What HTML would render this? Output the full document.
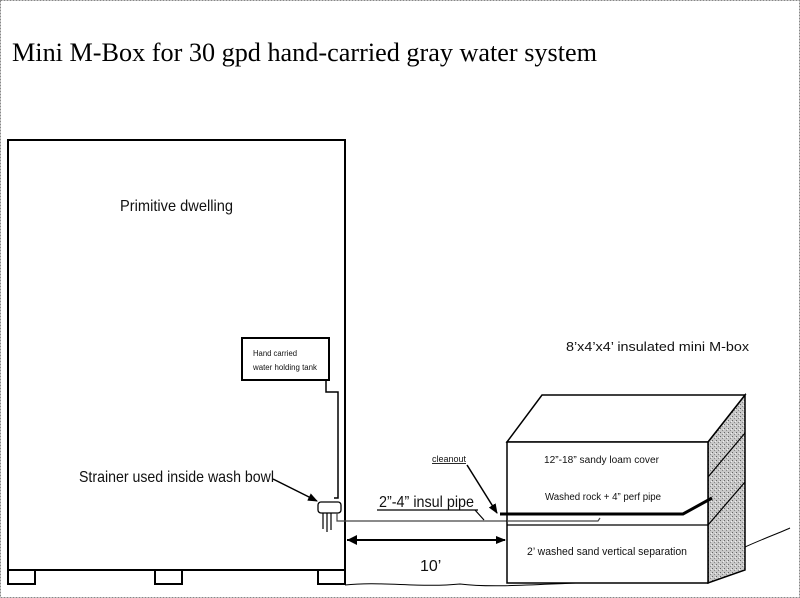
<!DOCTYPE html>
<html><head><style>
body{margin:0;width:800px;height:598px;background:#fff;overflow:hidden}
svg{display:block}
.s{font-family:"Liberation Sans",sans-serif;fill:#111}
</style></head><body>
<svg width="800" height="598" viewBox="0 0 800 598" xmlns="http://www.w3.org/2000/svg">
<defs>
<pattern id="st" width="4" height="4" patternUnits="userSpaceOnUse">
<rect width="4" height="4" fill="#c8c8c8"/><rect x="0" y="0" width="1" height="1" fill="#666"/><rect x="2" y="2" width="1" height="1" fill="#888"/><rect x="3" y="1" width="1" height="1" fill="#eee"/>
</pattern>
<marker id="ah" markerWidth="10" markerHeight="8" refX="9" refY="4" orient="auto" markerUnits="userSpaceOnUse"><path d="M0,0 L10,4 L0,8 z" fill="#000"/></marker>
</defs>
<rect x="0.5" y="0.5" width="799" height="597" fill="none" stroke="#888" stroke-width="1" stroke-dasharray="2,1"/>
<text x="12" y="61" font-family="Liberation Serif,serif" font-size="26" fill="#000" textLength="585" lengthAdjust="spacingAndGlyphs">Mini M-Box for 30 gpd hand-carried gray water system</text>
<!-- dwelling -->
<rect x="8" y="140" width="337" height="430" fill="none" stroke="#000" stroke-width="2"/>
<rect x="8" y="570" width="27" height="14" fill="none" stroke="#000" stroke-width="2"/>
<rect x="155" y="570" width="27" height="14" fill="none" stroke="#000" stroke-width="2"/>
<rect x="318" y="570" width="27" height="14" fill="none" stroke="#000" stroke-width="2"/>
<text x="120" y="211" class="s" font-size="16" textLength="113" lengthAdjust="spacingAndGlyphs">Primitive dwelling</text>
<rect x="242" y="338" width="87" height="42" fill="#fff" stroke="#000" stroke-width="2"/>
<text x="253" y="356" class="s" font-size="8" textLength="44" lengthAdjust="spacingAndGlyphs">Hand carried</text>
<text x="253" y="370" class="s" font-size="8" textLength="64" lengthAdjust="spacingAndGlyphs">water holding tank</text>
<path d="M326,380 V392 H338 V498 H334" fill="none" stroke="#000" stroke-width="1.5"/>
<rect x="318" y="502" width="23" height="11" rx="3" fill="#fff" stroke="#000" stroke-width="1.3"/>
<path d="M323,513 V529 M327,513 V532 M331,513 V530" stroke="#000" stroke-width="1.2"/>
<path d="M337,513 V521 H507" fill="none" stroke="#444" stroke-width="1.2"/>
<text x="79" y="482" class="s" font-size="16" textLength="195" lengthAdjust="spacingAndGlyphs">Strainer used inside wash bowl</text>
<line x1="273" y1="479" x2="317" y2="501" stroke="#000" stroke-width="1.5" marker-end="url(#ah)"/>
<!-- pipe label -->
<text x="379" y="507" class="s" font-size="16" textLength="95" lengthAdjust="spacingAndGlyphs">2”-4” insul pipe</text>
<line x1="377" y1="510" x2="478" y2="510" stroke="#000" stroke-width="1.2"/>
<line x1="475" y1="510" x2="484" y2="520" stroke="#000" stroke-width="1.2"/>
<text x="432" y="462" class="s" font-size="9" text-decoration="underline">cleanout</text>
<line x1="467" y1="465" x2="497" y2="513" stroke="#000" stroke-width="1.5" marker-end="url(#ah)"/>
<!-- 10' dimension -->
<line x1="347" y1="540" x2="505" y2="540" stroke="#000" stroke-width="2" marker-end="url(#ah)"/>
<path d="M347,540 L357,535 L357,545 z" fill="#000"/>
<text x="420" y="571" class="s" font-size="16">10’</text>
<!-- ground -->
<path d="M345,585 C380,581 420,588 460,584 C500,589 560,582 620,582 C660,578 700,575 720,560 C745,545 775,535 790,528" fill="none" stroke="#000" stroke-width="1"/>
<!-- box -->
<path d="M708,442 L745,395 L745,570 L708,583 z" fill="url(#st)" stroke="#000" stroke-width="1.5"/>
<path d="M507,442 L542,395 L745,395 L708,442 z" fill="#fff" stroke="#000" stroke-width="1.5"/>
<rect x="507" y="442" width="201" height="141" fill="#fff" stroke="#000" stroke-width="1.5"/>
<line x1="507" y1="525" x2="708" y2="525" stroke="#000" stroke-width="1.2"/>
<line x1="708" y1="477" x2="745" y2="433" stroke="#000" stroke-width="1.2"/>
<line x1="708" y1="525" x2="745" y2="482" stroke="#000" stroke-width="1.2"/>
<path d="M500,514 H683 L712,498" fill="none" stroke="#000" stroke-width="3"/>
<path d="M507,521 H598 L600,518" fill="none" stroke="#444" stroke-width="1.2"/>
<text x="544" y="463" class="s" font-size="10" textLength="115" lengthAdjust="spacingAndGlyphs">12”-18”   sandy loam cover</text>
<text x="545" y="500" class="s" font-size="10" textLength="116" lengthAdjust="spacingAndGlyphs">Washed rock + 4” perf pipe</text>
<text x="527" y="555" class="s" font-size="11" textLength="160" lengthAdjust="spacingAndGlyphs">2’ washed sand vertical separation</text>
<text x="566" y="351" class="s" font-size="13" textLength="183" lengthAdjust="spacingAndGlyphs">8’x4’x4’ insulated mini M-box</text>
</svg>
</body></html>
